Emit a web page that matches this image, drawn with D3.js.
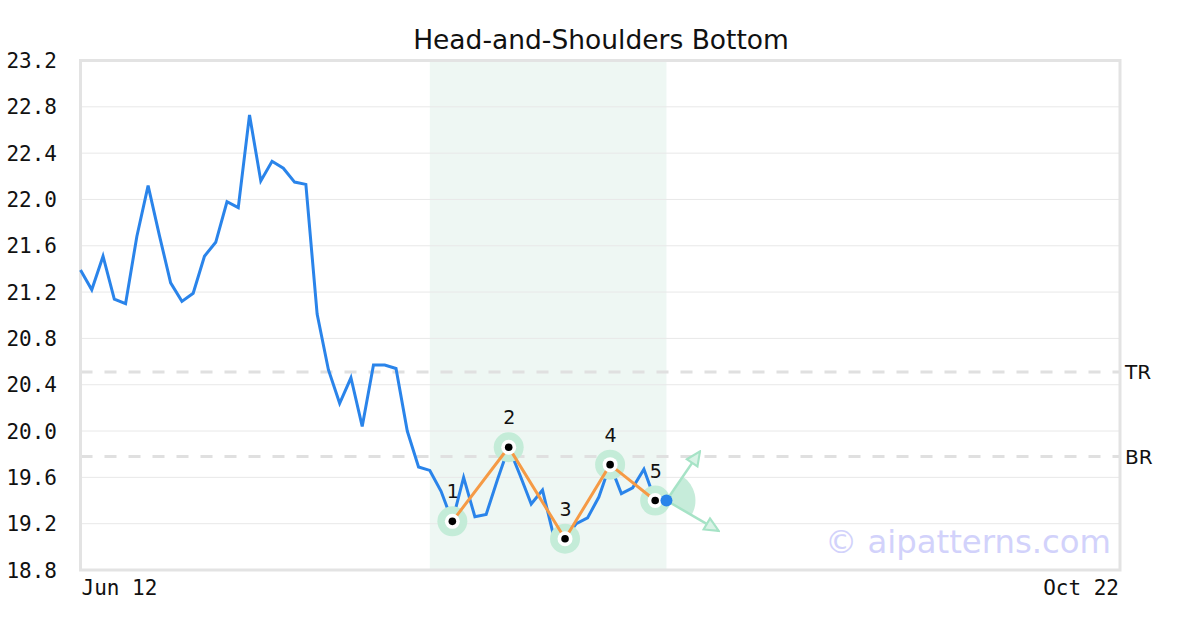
<!DOCTYPE html>
<html>
<head>
<meta charset="utf-8">
<script src="https://cdn.jsdelivr.net/npm/d3@7"></script>
<style>
  html, body { margin: 0; padding: 0; background: #fff; }
  svg { display: block; }
</style>
</head>
<body>
<svg id="chart" width="1200" height="630"></svg>
<script>
// ---- data ----
const closes = [
  21.39, 21.22, 21.51, 21.14, 21.10, 21.68, 22.12, 21.69, 21.28, 21.12,
  21.19, 21.51, 21.63, 21.98, 21.93, 22.73, 22.16, 22.33, 22.27, 22.15,
  22.13, 21.01, 20.53, 20.24, 20.46, 20.04, 20.57, 20.57, 20.54, 20.00,
  19.69, 19.66, 19.48, 19.22, 19.60, 19.26, 19.28, 19.58, 19.86, 19.62,
  19.37, 19.49, 19.09, 19.07, 19.20, 19.25, 19.43, 19.71, 19.46, 19.51,
  19.67, 19.40, 19.40
];
const pivotIndex = [33, 38, 43, 47, 51];
const pivotLabels = ["1", "2", "3", "4", "5"];
const shadeRange = [31, 52];
const levelNames = ["TR", "BR"];
const levelValues = [20.51, 19.78];
const yTicks = [18.8, 19.2, 19.6, 20.0, 20.4, 20.8, 21.2, 21.6, 22.0, 22.4, 22.8, 23.2];
const xTickLabels = ["Jun 12", "Oct 22"];
const xSlots = 92.25; // trading-day slots from Jun 12 to Oct 22
const title = "Head-and-Shoulders Bottom";
const watermark = "\u00a9 aipatterns.com";

// ---- layout ----
const svg = d3.select("#chart");
const L = 80.5, R = 1120, T = 60.5, B = 570;
const x = d3.scaleLinear().domain([0, xSlots]).range([L, R]);
const y = d3.scaleLinear().domain([18.8, 23.2]).range([B, T]);
const mono = "'DejaVu Sans Mono', monospace";
const sans = "'DejaVu Sans', sans-serif";

// shaded pattern region
svg.append("rect")
  .attr("x", x(shadeRange[0])).attr("y", T)
  .attr("width", x(shadeRange[1]) - x(shadeRange[0])).attr("height", B - T)
  .attr("fill", "#eef7f3");

// gridlines
svg.append("g").selectAll("line").data(yTicks).join("line")
  .attr("x1", L).attr("x2", R)
  .attr("y1", d => y(d)).attr("y2", d => y(d))
  .attr("stroke", "#e8e8e8").attr("stroke-width", 1);

// level dashed lines
svg.append("g").selectAll("line").data(levelValues).join("line")
  .attr("x1", L).attr("x2", R)
  .attr("y1", d => y(d)).attr("y2", d => y(d))
  .attr("stroke", "#e0e0e0").attr("stroke-width", 3)
  .attr("stroke-dasharray", "12,12");
svg.append("g").selectAll("text").data(levelNames).join("text")
  .attr("x", R + 5).attr("y", (d, i) => y(levelValues[i]))
  .attr("dy", "0.36em")
  .attr("font-family", sans).attr("font-size", 20).attr("fill", "#111")
  .text(d => d);

// border
svg.append("rect")
  .attr("x", L).attr("y", T).attr("width", R - L).attr("height", B - T)
  .attr("fill", "none").attr("stroke", "#e3e3e3").attr("stroke-width", 3);

// y axis labels
svg.append("g").selectAll("text").data(yTicks).join("text")
  .attr("x", 57).attr("y", d => y(d)).attr("dy", "0.36em")
  .attr("text-anchor", "end")
  .attr("font-family", mono).attr("font-size", 21).attr("fill", "#111")
  .text(d => d.toFixed(1));

// x axis labels
svg.append("text").attr("x", L + 1).attr("y", 595)
  .attr("font-family", mono).attr("font-size", 21).attr("fill", "#111")
  .text(xTickLabels[0]);
svg.append("text").attr("x", R - 1).attr("y", 595).attr("text-anchor", "end")
  .attr("font-family", mono).attr("font-size", 21).attr("fill", "#111")
  .text(xTickLabels[1]);

// title
svg.append("text").attr("x", 601).attr("y", 49).attr("text-anchor", "middle")
  .attr("font-family", sans).attr("font-size", 26.5).attr("fill", "#111")
  .text(title);

// watermark
svg.append("text").attr("x", 1111).attr("y", 553).attr("text-anchor", "end")
  .attr("font-family", sans).attr("font-size", 32.3).attr("fill", "#d2d2fb")
  .text(watermark);

// projection sector + arrows at last point
const lastI = closes.length - 1;
const cx = x(lastI), cy = y(closes[lastI]);
const upEnd = [x(lastI + 2.95), y(19.82)];
const dnEnd = [x(lastI + 4.6), y(19.14)];
const angUp = Math.atan2(upEnd[0] - cx, -(upEnd[1] - cy));
const angDn = Math.atan2(dnEnd[0] - cx, -(dnEnd[1] - cy));
svg.append("path")
  .attr("transform", `translate(${cx},${cy})`)
  .attr("d", d3.arc().innerRadius(0).outerRadius(29).startAngle(angUp).endAngle(angDn)())
  .attr("fill", "#c6ecda");

const defs = svg.append("defs");
defs.append("marker").attr("id", "arr").attr("viewBox", "0 0 16 16")
  .attr("refX", 14).attr("refY", 8).attr("markerWidth", 17).attr("markerHeight", 17)
  .attr("markerUnits", "userSpaceOnUse").attr("orient", "auto")
  .append("path").attr("d", "M1.5,2 L14.5,8 L1.5,14 Z")
  .attr("fill", "#d9f3e6").attr("stroke", "#a6e3c6").attr("stroke-width", 2);
[upEnd, dnEnd].forEach(e => {
  svg.append("line").attr("x1", cx).attr("y1", cy).attr("x2", e[0]).attr("y2", e[1])
    .attr("stroke", "#a6e3c6").attr("stroke-width", 2.5)
    .attr("marker-end", "url(#arr)");
});

// price line
svg.append("path").datum(closes)
  .attr("d", d3.line().x((d, i) => x(i)).y(d => y(d)))
  .attr("fill", "none").attr("stroke", "#2a84ea").attr("stroke-width", 3)
  .attr("stroke-linejoin", "miter");

// pattern line
const pivots = pivotIndex.map((i, k) => ({ i, v: closes[i], label: pivotLabels[k] }));
svg.append("g").selectAll("circle").data(pivots).join("circle")
  .attr("cx", d => x(d.i)).attr("cy", d => y(d.v)).attr("r", 15)
  .attr("fill", "#c4ecd8");
svg.append("path").datum(pivots)
  .attr("d", d3.line().x(d => x(d.i)).y(d => y(d.v)))
  .attr("fill", "none").attr("stroke", "#f59a45").attr("stroke-width", 3);
svg.append("g").selectAll("circle").data(pivots).join("circle")
  .attr("cx", d => x(d.i)).attr("cy", d => y(d.v)).attr("r", 7.5)
  .attr("fill", "#fff");
svg.append("g").selectAll("circle").data(pivots).join("circle")
  .attr("cx", d => x(d.i)).attr("cy", d => y(d.v)).attr("r", 3.8)
  .attr("fill", "#000");
svg.append("g").selectAll("text").data(pivots).join("text")
  .attr("x", d => x(d.i) + 0.5).attr("y", d => y(d.v) - 23)
  .attr("text-anchor", "middle")
  .attr("font-family", sans).attr("font-size", 19).attr("fill", "#111")
  .text(d => d.label);

// last point dot
svg.append("circle").attr("cx", cx).attr("cy", cy).attr("r", 6).attr("fill", "#2a84ea");
</script>
</body>
</html>
